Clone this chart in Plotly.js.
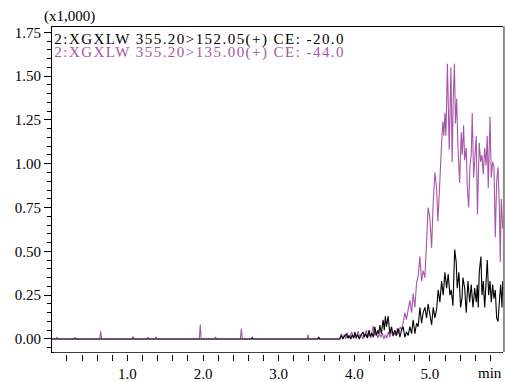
<!DOCTYPE html>
<html>
<head>
<meta charset="utf-8">
<script src="https://cdn.plot.ly/plotly-3.0.1.min.js"></script>
<style>
  html, body { margin: 0; padding: 0; background: #fff; }
  #chart { width: 505px; height: 382px; }
  /* channel captions are set slightly spaced out */
  .annotation[data-index="1"] text,
  .annotation[data-index="2"] text { letter-spacing: 1.45px; }
</style>
</head>
<body>
<div id="chart"></div>
<script>
// Retention time (min) and intensity (x1,000) for the two MRM channels.
var timeCh1 = [0, 2.638, 2.65, 2.662, 3.518, 3.53, 3.542,
  3.808, 3.828, 3.848, 3.868, 3.897, 3.914, 3.934, 3.954, 3.974, 3.993,
  4.007, 4.026, 4.046, 4.066, 4.086, 4.117, 4.132, 4.152, 4.172, 4.196,
  4.212, 4.232, 4.252, 4.272, 4.291, 4.311, 4.325, 4.338, 4.358, 4.381,
  4.397, 4.411, 4.426, 4.448, 4.470, 4.493, 4.514, 4.536, 4.559, 4.580,
  4.603, 4.625, 4.646, 4.669, 4.691, 4.713, 4.735, 4.758, 4.779, 4.801,
  4.824, 4.845, 4.868, 4.890, 4.911, 4.934, 4.956, 4.977, 5.000, 5.023,
  5.044, 5.066, 5.089, 5.110, 5.132, 5.155, 5.176, 5.199, 5.221, 5.242,
  5.265, 5.282, 5.305, 5.328, 5.348, 5.362, 5.384, 5.406, 5.424, 5.437,
  5.460, 5.481, 5.503, 5.526, 5.547, 5.570, 5.592, 5.613, 5.626, 5.640,
  5.653, 5.675, 5.689, 5.706, 5.725, 5.742, 5.759, 5.777, 5.795, 5.812,
  5.830, 5.848, 5.865, 5.883, 5.901, 5.918, 5.936, 5.954, 5.963, 5.980];
var intensityCh1 = [0, 0, 0.008, 0, 0, 0.012, 0,
  0.00, 0.02, 0.00, 0.015, 0.03, 0.005, 0.02, 0.00, 0.025, 0.005,
  0.04, 0.01, 0.025, 0.00, 0.02, 0.04, 0.01, 0.03, 0.005, 0.05,
  0.015, 0.035, 0.01, 0.07, 0.02, 0.05, 0.03, 0.08, 0.03, 0.11,
  0.05, 0.13, 0.07, 0.13, 0.03, 0.07, 0.02, 0.05, 0.02, 0.06,
  0.01, 0.05, 0.07, 0.01, 0.04, 0.02, 0.07, 0.03, 0.11, 0.03,
  0.09, 0.07, 0.18, 0.09, 0.15, 0.18, 0.12, 0.20, 0.13, 0.08,
  0.18, 0.12, 0.17, 0.28, 0.21, 0.33, 0.25, 0.38, 0.29, 0.37,
  0.25, 0.28, 0.19, 0.51, 0.44, 0.29, 0.38, 0.18, 0.23, 0.35,
  0.29, 0.15, 0.33, 0.21, 0.31, 0.18, 0.29, 0.21, 0.31, 0.18,
  0.38, 0.47, 0.25, 0.33, 0.18, 0.29, 0.45, 0.25, 0.33, 0.21,
  0.31, 0.23, 0.28, 0.12, 0.10, 0.21, 0.31, 0.18, 0.33, 0.20];

var timeCh2 = [0, 0.058, 0.07, 0.082, 0.298, 0.31, 0.322, 0.634, 0.646, 0.658,
  1.063, 1.075, 1.087, 1.258, 1.27, 1.282, 1.368, 1.38, 1.392,
  1.951, 1.963, 1.975, 2.153, 2.165, 2.177, 2.494, 2.506, 2.518,
  3.378, 3.39, 3.402,
  3.808, 3.830, 3.848, 3.868, 3.887, 3.907, 3.927, 3.947, 3.967, 3.987,
  4.007, 4.026, 4.050, 4.073, 4.093, 4.113, 4.132, 4.162, 4.179, 4.199,
  4.219, 4.249, 4.272, 4.291, 4.311, 4.331, 4.351, 4.371, 4.391, 4.411,
  4.430, 4.450, 4.470, 4.490, 4.510, 4.530, 4.550, 4.570, 4.589, 4.609,
  4.629, 4.646, 4.669, 4.689, 4.713, 4.735, 4.758, 4.779, 4.801, 4.824,
  4.845, 4.868, 4.890, 4.911, 4.934, 4.947, 4.960, 4.977, 5.000, 5.023,
  5.044, 5.066, 5.089, 5.106, 5.119, 5.142, 5.155, 5.172, 5.185, 5.199,
  5.212, 5.232, 5.256, 5.278, 5.295, 5.309, 5.325, 5.338, 5.354, 5.371,
  5.393, 5.415, 5.428, 5.446, 5.460, 5.481, 5.494, 5.513, 5.530, 5.547,
  5.560, 5.579, 5.600, 5.613, 5.629, 5.653, 5.672, 5.689, 5.706, 5.725,
  5.742, 5.759, 5.772, 5.795, 5.812, 5.830, 5.848, 5.865, 5.883, 5.901,
  5.918, 5.931, 5.944, 5.963, 5.980];
var intensityCh2 = [0, 0, 0.012, 0, 0, 0.01, 0, 0, 0.044, 0,
  0, 0.015, 0, 0, 0.012, 0, 0, 0.013, 0,
  0, 0.082, 0, 0, 0.012, 0, 0, 0.059, 0,
  0, 0.025, 0,
  0.00, 0.03, 0.005, 0.025, 0.00, 0.035, 0.005, 0.02, 0.04, 0.005,
  0.025, 0.00, 0.045, 0.01, 0.03, 0.00, 0.02, 0.05, 0.01, 0.03,
  0.005, 0.075, 0.02, 0.04, 0.005, 0.03, 0.01, 0.035, 0.00, 0.025,
  0.005, 0.04, 0.01, 0.05, 0.015, 0.035, 0.02, 0.06, 0.03, 0.07,
  0.05, 0.09, 0.15, 0.11, 0.17, 0.22, 0.15, 0.26, 0.18, 0.32,
  0.36, 0.47, 0.33, 0.39, 0.35, 0.50, 0.55, 0.75, 0.69, 0.52,
  0.78, 0.95, 0.86, 0.67, 0.78, 1.07, 1.12, 1.24, 1.16, 1.29,
  1.16, 1.57, 1.08, 1.55, 1.01, 1.37, 1.57, 1.23, 1.37, 1.10,
  0.89, 1.18, 1.05, 1.22, 1.02, 1.09, 0.88, 0.75, 0.99, 1.05,
  1.29, 0.92, 1.05, 1.16, 0.71, 1.12, 1.01, 1.05, 0.94, 1.09,
  0.99, 1.16, 0.86, 1.27, 0.92, 1.01, 0.98, 0.58, 0.90, 0.98,
  0.76, 0.44, 0.80, 0.63, 0.71];

var channelLabels = [
  '2:XGXLW 355.20>152.05(+) CE: -20.0',
  '2:XGXLW 355.20>135.00(+) CE: -44.0'
];
var majorTimes = [1, 2, 3, 4, 5];
var majorTimeLabels = ['1.0', '2.0', '3.0', '4.0', '5.0'];

var serif = 'Liberation Serif, Times New Roman, serif';
var purple = '#a656a8';
var fs = 15;

var traces = [
  { x: timeCh2, y: intensityCh2, type: 'scatter', mode: 'lines',
    name: channelLabels[1], line: { color: purple, width: 1.1 } },
  { x: timeCh1, y: intensityCh1, type: 'scatter', mode: 'lines',
    name: channelLabels[0], line: { color: '#000000', width: 1.1 } }
];

var layout = {
  width: 505, height: 382,
  margin: { l: 52, r: 2, t: 27, b: 30, pad: 0 },
  paper_bgcolor: '#ffffff', plot_bgcolor: '#ffffff',
  showlegend: false,
  font: { family: serif, size: fs, color: '#000' },
  xaxis: {
    range: [0.002, 5.967],
    showgrid: false, zeroline: false,
    showline: true, linecolor: '#000', linewidth: 1, mirror: true,
    tickmode: 'array', tickvals: majorTimes, ticktext: majorTimeLabels,
    ticks: 'outside', ticklen: 8, tickcolor: '#000', tickwidth: 1,
    minor: { dtick: 0.2, tick0: 0, ticks: 'outside', ticklen: 8, tickcolor: '#000', tickwidth: 1 },
    tickfont: { family: serif, size: fs, color: '#000' }
  },
  yaxis: {
    range: [-0.0742, 1.780],
    showgrid: false, zeroline: false,
    showline: true, linecolor: '#000', linewidth: 1, mirror: false,
    tick0: 0, dtick: 0.25, tickformat: '.2f',
    ticks: 'outside', ticklen: 7, tickcolor: '#000', tickwidth: 1,
    minor: { dtick: 0.05, tick0: 0, ticks: 'outside', ticklen: 4, tickcolor: '#000', tickwidth: 1 },
    tickfont: { family: serif, size: fs, color: '#000' }
  },
  shapes: [
    // grey right frame edge
    { type: 'line', xref: 'paper', yref: 'paper', x0: 1.002, x1: 1.002, y0: 0, y1: 1.002,
      line: { color: '#8a8a8a', width: 2 }, layer: 'above' },
    // small gap between the frame and the time ticks
    { type: 'rect', xref: 'paper', yref: 'paper', x0: 0.004, x1: 0.998, y0: -0.0095, y1: -0.0022,
      line: { width: 0 }, fillcolor: '#ffffff', layer: 'above' }
  ],
  annotations: [
    { text: '(x1,000)', xref: 'paper', yref: 'paper', x: -0.022, y: 1.031,
      xanchor: 'left', yanchor: 'middle', showarrow: false,
      font: { family: serif, size: fs, color: '#000' } },
    // spaced captions widen symmetrically, so their box is nudged right
    { text: channelLabels[0], xref: 'paper', yref: 'paper', x: 0.0554, y: 0.963,
      xanchor: 'left', yanchor: 'middle', showarrow: false,
      font: { family: serif, size: fs, color: '#000' } },
    { text: channelLabels[1], xref: 'paper', yref: 'paper', x: 0.0554, y: 0.923,
      xanchor: 'left', yanchor: 'middle', showarrow: false,
      font: { family: serif, size: fs, color: purple } },
    { text: 'min', xref: 'paper', yref: 'paper', x: 0.971, y: -0.066,
      xanchor: 'center', yanchor: 'middle', showarrow: false,
      font: { family: serif, size: fs, color: '#000' } }
  ]
};

Plotly.newPlot('chart', traces, layout, { staticPlot: true, displayModeBar: false });
</script>
</body>
</html>
